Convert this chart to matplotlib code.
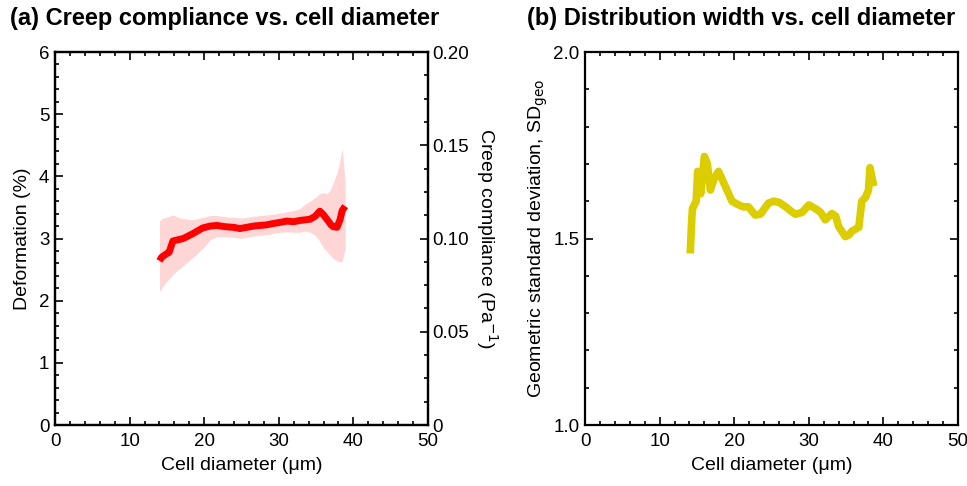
import matplotlib.pyplot as plt
from matplotlib.ticker import MultipleLocator, FormatStrFormatter, FuncFormatter

plt.rcParams['font.family'] = ['Liberation Sans', 'DejaVu Sans']

# (a) deformation vs. cell diameter (running median + spread)
diam_a = [14.0, 14.3, 14.9, 15.3, 15.8, 16.5, 17.2, 18.5, 19.8, 20.8, 21.7, 22.8,
          23.9, 24.8, 25.7, 26.6, 27.5, 28.4, 29.2, 30.2, 31.1, 32.0, 32.8, 33.5,
          34.2, 34.9, 35.5, 36.0, 36.5, 37.0, 37.3, 37.8, 38.2, 38.5, 38.9]
deformation = [2.64, 2.7, 2.75, 2.78, 2.96, 2.98, 3.0, 3.08, 3.17, 3.2, 3.21, 3.19,
               3.18, 3.16, 3.18, 3.2, 3.21, 3.22, 3.24, 3.26, 3.28, 3.27, 3.29, 3.3,
               3.31, 3.36, 3.44, 3.38, 3.3, 3.22, 3.19, 3.18, 3.3, 3.45, 3.52]
band_hi = [3.28, 3.32, 3.34, 3.36, 3.38, 3.34, 3.32, 3.3, 3.34, 3.37, 3.37, 3.35,
           3.34, 3.33, 3.34, 3.36, 3.37, 3.38, 3.39, 3.41, 3.43, 3.45, 3.48, 3.55,
           3.6, 3.66, 3.72, 3.74, 3.72, 3.8, 3.9, 4.05, 4.25, 4.45, 3.9]
band_lo = [2.15, 2.2, 2.3, 2.35, 2.42, 2.5, 2.56, 2.7, 2.84, 2.98, 3.03, 3.03,
           3.02, 3.0, 3.02, 3.04, 3.05, 3.06, 3.08, 3.1, 3.11, 3.1, 3.1, 3.12,
           3.1, 3.05, 2.95, 2.85, 2.78, 2.72, 2.68, 2.64, 2.62, 2.64, 2.84]

# (b) geometric standard deviation vs. cell diameter
diam_b = [14.1, 14.3, 14.4, 14.9, 15.1, 15.5, 16.0, 16.4, 16.8, 17.3, 17.9, 18.8,
          19.7, 20.6, 21.2, 21.9, 22.8, 23.5, 24.6, 25.3, 26.0, 26.9, 27.5, 28.2,
          29.1, 30.0, 30.9, 31.6, 32.2, 33.1, 33.6, 34.0, 34.9, 35.4, 35.8, 36.7,
          37.1, 37.6, 38.0, 38.2, 38.5, 38.7]
sd_geo = [1.46, 1.55, 1.58, 1.60, 1.68, 1.62, 1.72, 1.70, 1.63, 1.66, 1.68, 1.64,
          1.60, 1.59, 1.585, 1.585, 1.563, 1.565, 1.595, 1.60, 1.597, 1.585, 1.575, 1.565,
          1.57, 1.59, 1.58, 1.57, 1.55, 1.567, 1.56, 1.532, 1.505, 1.51, 1.52, 1.53,
          1.60, 1.61, 1.63, 1.69, 1.66, 1.64]

TITLE_FS = 17
LABEL_FS = 14
TICK_FS = 13.5


def style_axis(ax):
    for s in ax.spines.values():
        s.set_linewidth(1.6)
    ax.tick_params(which='both', direction='in', top=True, width=1.2, labelsize=TICK_FS, pad=4)
    ax.tick_params(axis='x', which='both', pad=6)
    ax.tick_params(which='major', length=6)
    ax.tick_params(which='minor', length=3)


fig = plt.figure(figsize=(9.67, 4.86), dpi=100)

# ---- panel (a)
ax1 = fig.add_axes([0.0569, 0.1255, 0.3857, 0.7675])
ax1.fill_between(diam_a, band_lo, band_hi, color='#ffd6d6', lw=0)
ax1.plot(diam_a, deformation, color='#ff0000', lw=5, solid_capstyle='butt')
ax1.set_xlim(0, 50)
ax1.set_ylim(0, 6)
ax1.xaxis.set_major_locator(MultipleLocator(10))
ax1.xaxis.set_minor_locator(MultipleLocator(2))
ax1.yaxis.set_major_locator(MultipleLocator(1))
ax1.yaxis.set_minor_locator(MultipleLocator(0.2))
style_axis(ax1)
ax1.tick_params(which='both', right=False)
ax1.set_xlabel('Cell diameter (\u03bcm)', fontsize=LABEL_FS, labelpad=5)
ax1.set_ylabel('Deformation (%)', fontsize=LABEL_FS, labelpad=6)

ax1r = ax1.twinx()
ax1r.set_ylim(0, 0.20)
ax1r.yaxis.set_major_locator(MultipleLocator(0.05))
ax1r.yaxis.set_minor_locator(MultipleLocator(0.0125))
ax1r.yaxis.set_major_formatter(FuncFormatter(lambda v, p: '0' if abs(v) < 1e-9 else f'{v:.2f}'))
for s in ax1r.spines.values():
    s.set_linewidth(1.6)
ax1r.tick_params(which='both', direction='in', width=1.2, labelsize=TICK_FS, pad=3)
ax1r.tick_params(which='major', length=6)
ax1r.tick_params(which='minor', length=3)
ax1r.set_ylabel('Creep compliance (Pa$^{-1}$)', fontsize=LABEL_FS, rotation=270, labelpad=22)

fig.text(0.010, 0.962, '(a) Creep compliance vs. cell diameter', fontsize=TITLE_FS,
         fontweight='bold', va='center', ha='left')

# ---- panel (b)
ax2 = fig.add_axes([0.605, 0.1255, 0.3857, 0.7675])
ax2.plot(diam_b, sd_geo, color='#dccd00', lw=5.5, solid_capstyle='butt')
ax2.set_xlim(0, 50)
ax2.set_ylim(1.0, 2.0)
ax2.xaxis.set_major_locator(MultipleLocator(10))
ax2.xaxis.set_minor_locator(MultipleLocator(2))
ax2.yaxis.set_major_locator(MultipleLocator(0.5))
ax2.yaxis.set_minor_locator(MultipleLocator(0.1))
ax2.yaxis.set_major_formatter(FormatStrFormatter('%.1f'))
style_axis(ax2)
ax2.tick_params(which='both', right=True)
ax2.set_xlabel('Cell diameter (\u03bcm)', fontsize=LABEL_FS, labelpad=5)
ax2.set_ylabel('Geometric standard deviation, SD$_{\\mathrm{geo}}$', fontsize=LABEL_FS, labelpad=2)

fig.text(0.545, 0.962, '(b) Distribution width vs. cell diameter', fontsize=TITLE_FS,
         fontweight='bold', va='center', ha='left')

fig.savefig('out.png', dpi=100)
